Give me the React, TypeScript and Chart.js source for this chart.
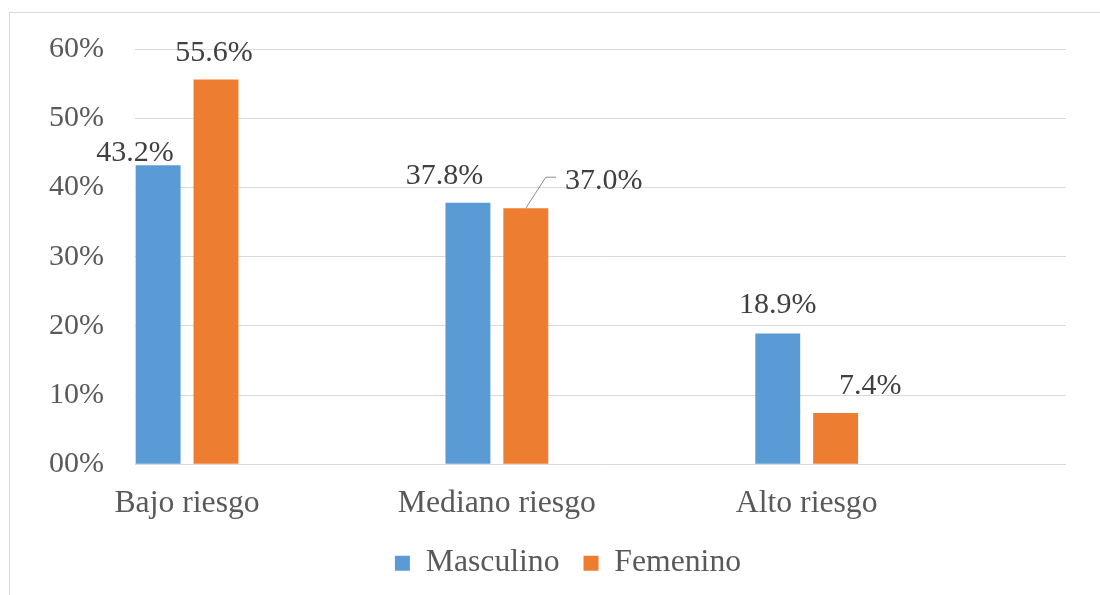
import React, { useEffect, useRef } from "react";
import { Chart, registerables } from "chart.js";

Chart.register(...registerables);

const categories = ["Bajo riesgo", "Mediano riesgo", "Alto riesgo"];
const masculino = [43.2, 37.8, 18.9];
const femenino = [55.6, 37.0, 7.4];
const yTicks = [0, 10, 20, 30, 40, 50, 60];
const yTickLabels = ["00%", "10%", "20%", "30%", "40%", "50%", "60%"];

const FONT = "'Liberation Serif', 'Times New Roman', serif";
const AXIS_COLOR = "#595959";
const LABEL_COLOR = "#404040";

// label offsets relative to bar top-centre: [dx, baselineGapAbove]
const labelOffsets = [
  [[-23, 4], [-23.5, 19], [0, 20]],
  [[-2, 18], [78, 19], [34.5, 19]],
];

const dataLabelPlugin = {
  id: "dataLabels",
  afterDatasetsDraw(chart: any) {
    const ctx = chart.ctx;
    ctx.save();
    ctx.font = `30px ${FONT}`;
    ctx.fillStyle = LABEL_COLOR;
    ctx.textAlign = "center";
    ctx.textBaseline = "alphabetic";
    chart.data.datasets.forEach((ds: any, di: number) => {
      const meta = chart.getDatasetMeta(di);
      meta.data.forEach((bar: any, i: number) => {
        const v = ds.data[i].y;
        const [dx, gap] = labelOffsets[di][i];
        const x = bar.x + dx;
        const y = bar.y - gap;
        const txt = v.toFixed(1) + "%";
        ctx.fillText(txt, x, y);
        if (di === 1 && i === 1) {
          const w = ctx.measureText(txt).width;
          const left = x - w / 2;
          ctx.strokeStyle = "#8c8c8c";
          ctx.lineWidth = 1;
          ctx.beginPath();
          ctx.moveTo(bar.x, bar.y);
          ctx.lineTo(bar.x + 20, bar.y - 31);
          ctx.lineTo(left - 9, bar.y - 31);
          ctx.stroke();
        }
      });
    });
    ctx.restore();
  },
};

// shift the legend to the right (Excel centres it off the plot centre)
const legendShiftPlugin = {
  id: "legendShift",
  afterLayout(chart: any) {
    const lg = chart.legend;
    if (lg) {
      lg.left += 35;
      lg.right += 35;
    }
  },
};

export default function App() {
  const ref = useRef<HTMLCanvasElement | null>(null);
  useEffect(() => {
    if (!ref.current) return;
    const chart = new Chart(ref.current, {
      type: "bar",
      data: {
        datasets: [
          {
            label: "Masculino",
            data: masculino.map((v, i) => ({ x: i, y: v })),
            backgroundColor: "#5B9BD5",
            categoryPercentage: 0.3736,
            barPercentage: 0.776,
          },
          {
            label: "Femenino",
            data: femenino.map((v, i) => ({ x: i, y: v })),
            backgroundColor: "#ED7D31",
            categoryPercentage: 0.3736,
            barPercentage: 0.776,
          },
        ],
      },
      options: {
        animation: false,
        responsive: false,
        maintainAspectRatio: false,
        layout: { padding: { top: 47, right: 34, bottom: 6, left: 0 } },
        plugins: {
          tooltip: { enabled: false },
          legend: {
            position: "bottom",
            labels: {
              font: { family: FONT, size: 31.7 },
              color: AXIS_COLOR,
              boxWidth: 15,
              boxHeight: 15,
              padding: 24,
            },
          },
        },
        scales: {
          x: {
            type: "linear",
            offset: false,
            min: -0.168,
            max: 2.837,
            afterBuildTicks: (scale: any) => {
              scale.ticks = categories.map((_, i) => ({ value: i }));
            },
            afterFit: (scale: any) => {
              scale.height = 59;
            },
            grid: { display: false, drawTicks: false, offset: false },
            border: { display: false },
            ticks: {
              autoSkip: false,
              maxRotation: 0,
              padding: 20,
              font: { family: FONT, size: 31.7 },
              color: AXIS_COLOR,
              callback: (v: any) => categories[v] ?? "",
            },
          },
          y: {
            min: 0,
            max: 60,
            afterBuildTicks: (scale: any) => {
              scale.ticks = yTicks.map((v) => ({ value: v }));
            },
            afterFit: (scale: any) => {
              scale.width = 135;
            },
            grid: { color: "#d9d9d9", lineWidth: 1, drawTicks: false },
            border: { display: false },
            ticks: {
              padding: 31,
              font: { family: FONT, size: 30 },
              color: AXIS_COLOR,
              callback: (v: any) => yTickLabels[yTicks.indexOf(v)] ?? "",
            },
          },
        },
      },
      plugins: [dataLabelPlugin, legendShiftPlugin],
    } as any);
    return () => chart.destroy();
  }, []);

  return (
    <div style={{ position: "fixed", left: 0, top: 0, width: 1100, height: 595, background: "#fff" }}>
      <div
        style={{
          position: "absolute",
          left: 9,
          top: 12,
          width: 1200,
          height: 700,
          border: "1px solid #d9d9d9",
        }}
      />
      <canvas
        ref={ref}
        width={1100}
        height={595}
        style={{ position: "absolute", left: 0, top: 0, width: 1100, height: 595 }}
      />
    </div>
  );
}
